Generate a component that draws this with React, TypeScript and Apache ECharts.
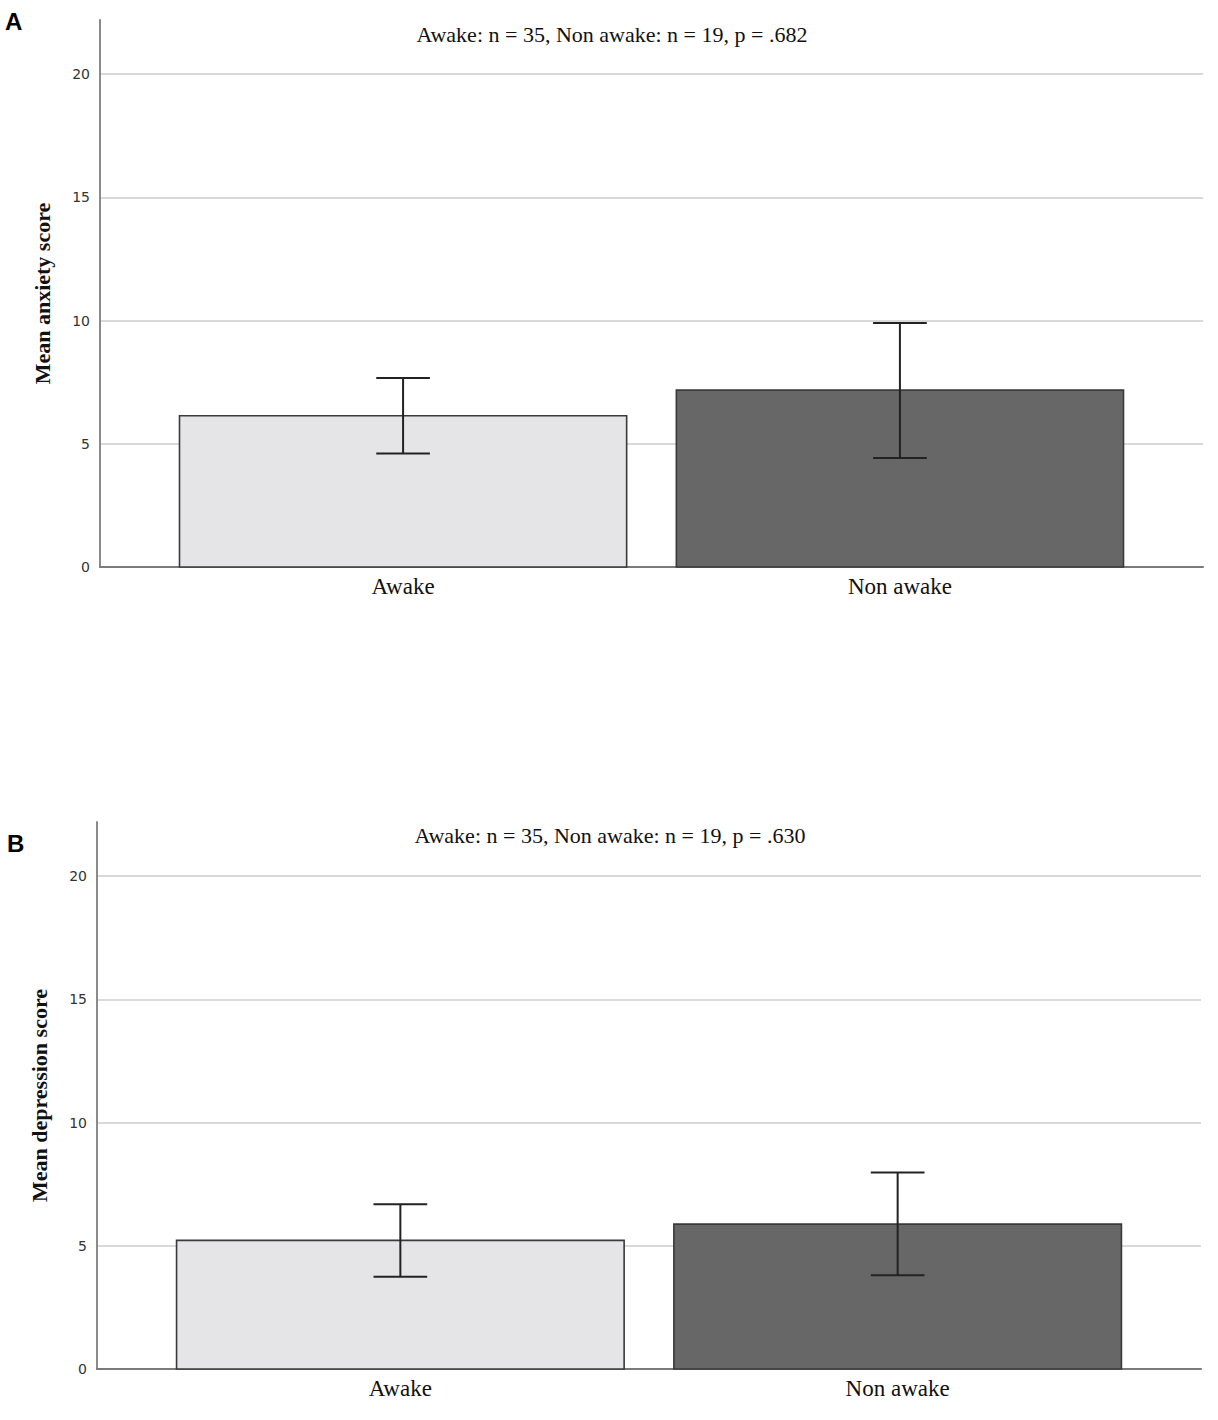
import React, { useEffect, useRef } from "react";
import * as echarts from "echarts";

const groups = ["Awake", "Non awake"];
const groupPositions = [1, 2];
const barColors = ["#e5e5e7", "#676768"];
const yTicks = [0, 5, 10, 15, 20];

const anxietyMeans = [6.14, 7.18];
const anxietyLower = [4.61, 4.42];
const anxietyUpper = [7.67, 9.9];

const depressionMeans = [5.22, 5.88];
const depressionLower = [3.74, 3.8];
const depressionUpper = [6.69, 7.98];

const panelLetters = ["A", "B"];
const panelTitles = [
  "Awake: n = 35, Non awake: n = 19, p = .682",
  "Awake: n = 35, Non awake: n = 19, p = .630",
];
const yNames = ["Mean anxiety score", "Mean depression score"];

const SERIF = "'Liberation Serif', 'Times New Roman', serif";
const SANS = "'DejaVu Sans', Verdana, sans-serif";

const BAR_HALF = 0.45;
const CAP_HALF = 0.054;

function barSeries(gridIndex: number, means: number[]) {
  return {
    type: "custom",
    xAxisIndex: gridIndex,
    yAxisIndex: gridIndex,
    data: means.map((m, i) => [groupPositions[i], m]),
    renderItem: (params: any, api: any) => {
      const x = api.value(0);
      const y = api.value(1);
      const p0 = api.coord([x - BAR_HALF, y]);
      const p1 = api.coord([x + BAR_HALF, 0]);
      return {
        type: "rect",
        shape: { x: p0[0], y: p0[1], width: p1[0] - p0[0], height: p1[1] - p0[1] },
        style: { fill: barColors[params.dataIndex], stroke: "#3a3a3a", lineWidth: 1.6 },
      };
    },
    z: 3,
  };
}

function errorSeries(gridIndex: number, lower: number[], upper: number[]) {
  return {
    type: "custom",
    xAxisIndex: gridIndex,
    yAxisIndex: gridIndex,
    data: lower.map((lo, i) => [groupPositions[i], lo, upper[i]]),
    renderItem: (_params: any, api: any) => {
      const x = api.value(0);
      const lo = api.value(1);
      const hi = api.value(2);
      const top = api.coord([x, hi]);
      const bot = api.coord([x, lo]);
      const capL = api.coord([x - CAP_HALF, hi]);
      const capR = api.coord([x + CAP_HALF, hi]);
      const capLb = api.coord([x - CAP_HALF, lo]);
      const capRb = api.coord([x + CAP_HALF, lo]);
      const st = { stroke: "#222", lineWidth: 2 };
      return {
        type: "group",
        children: [
          { type: "line", shape: { x1: top[0], y1: top[1], x2: bot[0], y2: bot[1] }, style: st },
          { type: "line", shape: { x1: capL[0], y1: capL[1], x2: capR[0], y2: capR[1] }, style: st },
          { type: "line", shape: { x1: capLb[0], y1: capLb[1], x2: capRb[0], y2: capRb[1] }, style: st },
        ],
      };
    },
    z: 4,
  };
}

function xAxis(gridIndex: number) {
  return {
    type: "value",
    gridIndex,
    min: 0.39,
    max: 2.61,
    axisLine: { show: true, lineStyle: { color: "#7a7a7a", width: 2 } },
    axisTick: { show: false, customValues: groupPositions },
    splitLine: { show: false },
    axisLabel: {
      customValues: groupPositions,
      formatter: (v: number) => groups[Math.round(v) - 1] ?? "",
      fontFamily: SERIF,
      fontSize: 23,
      color: "#111",
      margin: 8,
    },
  };
}

function yAxis(gridIndex: number, name: string) {
  return {
    type: "value",
    gridIndex,
    min: 0,
    max: 22.2,
    name,
    nameLocation: "middle",
    nameGap: 47,
    nameTextStyle: { fontFamily: SERIF, fontSize: 22, fontWeight: "bold", color: "#111" },
    axisLine: { show: true, lineStyle: { color: "#8a8a8a", width: 2 } },
    axisTick: { show: false, customValues: yTicks },
    axisLabel: {
      customValues: yTicks,
      fontFamily: SANS,
      fontSize: 14,
      color: "#333",
      margin: 10,
    },
    splitLine: { show: true, lineStyle: { color: "#cdcdcd", width: 1.5 } },
  };
}

export default function App() {
  const ref = useRef<HTMLDivElement>(null);
  useEffect(() => {
    if (!ref.current) return;
    const chart = echarts.init(ref.current, null, { renderer: "svg" });
    chart.setOption({
      animation: false,
      backgroundColor: "#fff",
      title: [
        {
          text: panelLetters[0],
          left: 0,
          top: 4,
          textStyle: { fontFamily: "'Liberation Sans', Arial, sans-serif", fontSize: 24, fontWeight: "bold", color: "#000" },
        },
        {
          text: panelLetters[1],
          left: 2,
          top: 826,
          textStyle: { fontFamily: "'Liberation Sans', Arial, sans-serif", fontSize: 24, fontWeight: "bold", color: "#000" },
        },
        {
          text: panelTitles[0],
          left: 607,
          textAlign: "center",
          top: 18,
          textStyle: { fontFamily: SERIF, fontSize: 22, fontWeight: "normal", color: "#111" },
        },
        {
          text: panelTitles[1],
          left: 605,
          textAlign: "center",
          top: 819,
          textStyle: { fontFamily: SERIF, fontSize: 22, fontWeight: "normal", color: "#111" },
        },
      ],
      grid: [
        { left: 100, top: 20, right: 15, bottom: 853, containLabel: false },
        { left: 97, top: 822, right: 17, bottom: 51, containLabel: false },
      ],
      xAxis: [xAxis(0), xAxis(1)],
      yAxis: [yAxis(0, yNames[0]), yAxis(1, yNames[1])],
      series: [
        barSeries(0, anxietyMeans),
        errorSeries(0, anxietyLower, anxietyUpper),
        barSeries(1, depressionMeans),
        errorSeries(1, depressionLower, depressionUpper),
      ],
    });
    return () => chart.dispose();
  }, []);
  return (
    <div
      ref={ref}
      style={{ position: "absolute", left: 0, top: 0, width: 1218, height: 1420 }}
    />
  );
}
